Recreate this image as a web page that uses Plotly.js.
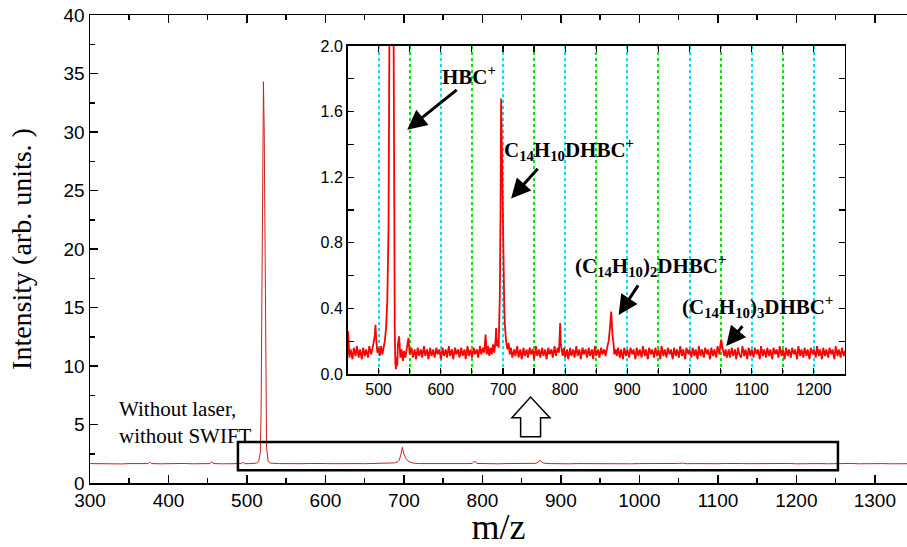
<!DOCTYPE html>
<html>
<head>
<meta charset="utf-8">
<script src="https://cdn.plot.ly/plotly-3.0.1.min.js"></script>
<style>html,body{margin:0;padding:0;background:#fff;}#chart{width:907px;height:547px;}</style>
</head>
<body>
<div id="chart"></div>
<script>
// ---- main spectrum (m/z, intensity) ----
const mainSpectrum = [
 [300,1.66],[310,1.64],[320,1.67],[330,1.65],[340,1.63],[350,1.66],[360,1.65],[370,1.67],[374,1.66],[376,1.80],[378,1.66],
 [390,1.64],[400,1.66],[410,1.65],[420,1.67],[430,1.64],[440,1.66],[450,1.65],[453,1.66],[455,1.82],[457,1.66],
 [470,1.64],[480,1.66],[490,1.65],[493,1.66],[495,1.78],[497,1.65],[505,1.66],[512,1.70],[515,1.85],[517,2.6],
 [518,6.0],[519,15.0],[520,28.0],[521,34.3],[522,30.0],[523,18.0],[524,7.5],[525,3.0],[527,1.85],[530,1.70],
 [540,1.66],[550,1.64],[560,1.66],[570,1.65],[580,1.67],[590,1.64],[600,1.66],[610,1.65],[620,1.67],[630,1.64],
 [640,1.66],[650,1.65],[660,1.66],[670,1.67],[680,1.68],[688,1.72],[692,1.80],[694,1.95],[696,2.4],[697,2.8],
 [698,3.05],[699,2.75],[700,2.45],[702,2.15],[705,1.90],[708,1.78],[712,1.70],[720,1.66],[730,1.65],[740,1.67],
 [750,1.64],[760,1.66],[770,1.65],[780,1.66],[787,1.67],[790,1.88],[793,1.67],[800,1.65],[810,1.66],[820,1.64],
 [830,1.66],[840,1.65],[850,1.67],[860,1.65],[868,1.68],[871,1.78],[873,1.95],[875,1.85],[878,1.70],[885,1.66],
 [890,1.65],[900,1.66],[910,1.64],[920,1.66],[930,1.65],[940,1.67],[950,1.64],[960,1.66],[970,1.65],[980,1.66],
 [990,1.64],[1000,1.66],[1010,1.65],[1020,1.67],[1030,1.64],[1040,1.66],[1050,1.67],[1055,1.70],[1060,1.65],
 [1070,1.66],[1080,1.64],[1090,1.66],[1100,1.65],[1110,1.67],[1120,1.64],[1130,1.66],[1140,1.65],[1150,1.66],
 [1160,1.64],[1170,1.66],[1180,1.65],[1190,1.67],[1200,1.64],[1210,1.66],[1220,1.65],[1230,1.66],[1240,1.64],
 [1250,1.66],[1260,1.65],[1270,1.67],[1280,1.64],[1290,1.66],[1300,1.65],[1310,1.66],[1320,1.64],[1330,1.66],[1341,1.65]
];

// ---- inset spectrum (zoomed region 450-1250) ----
const insetSpectrum = [
 [450,0.12],[451,0.26],[453,0.10],[455,0.15],[458,0.09],[460,0.16],[463,0.11],[465,0.17],[468,0.10],[470,0.15],
 [473,0.09],[475,0.16],[478,0.11],[480,0.15],[483,0.10],[485,0.17],[488,0.12],[490,0.15],[492,0.19],[494,0.24],
 [495,0.30],[496,0.22],[498,0.13],[500,0.16],[502,0.11],[504,0.17],[506,0.12],[508,0.16],[510,0.20],[512,0.28],
 [514,0.45],[516,0.9],[517,1.5],[518,2.6],[520,9.0],[521.5,12.0],[523,8.0],[524,2.2],[525,0.8],[526,0.25],
 [527,0.06],[528,0.03],[529,0.10],[530,0.05],[531,0.18],[533,0.23],[535,0.10],[537,0.15],[539,0.08],[541,0.14],
 [543,0.10],[546,0.16],[548,0.22],[550,0.12],[553,0.16],[555,0.10],[558,0.15],[560,0.09],[563,0.16],[565,0.11],
 [568,0.15],[570,0.10],[573,0.17],[575,0.11],[578,0.15],[580,0.09],[583,0.16],[585,0.11],[588,0.15],[590,0.10],
 [593,0.16],[595,0.12],[598,0.15],[600,0.09],[603,0.16],[605,0.11],[608,0.15],[610,0.10],[613,0.17],[615,0.11],
 [618,0.15],[620,0.09],[623,0.16],[625,0.12],[628,0.15],[630,0.10],[633,0.16],[635,0.11],[638,0.15],[640,0.09],
 [643,0.17],[645,0.11],[648,0.15],[650,0.10],[653,0.16],[655,0.12],[658,0.15],[660,0.10],[663,0.17],[665,0.12],
 [668,0.16],[670,0.13],[672,0.24],[674,0.12],[676,0.17],[678,0.11],[680,0.16],[682,0.12],[684,0.18],[686,0.13],
 [688,0.20],[689,0.28],[690,0.17],[692,0.21],[693,0.16],[694,0.32],[695,0.50],[696,0.95],[697,1.68],[698,1.45],
 [699,1.12],[700,0.85],[701,0.58],[702,0.42],[703,0.30],[704,0.24],[705,0.20],[707,0.15],[709,0.19],[711,0.12],
 [713,0.16],[715,0.10],[718,0.15],[720,0.11],[723,0.17],[725,0.10],[728,0.15],[730,0.09],[733,0.16],[735,0.11],
 [738,0.15],[740,0.10],[743,0.16],[745,0.12],[748,0.15],[750,0.09],[753,0.17],[755,0.11],[758,0.15],[760,0.10],
 [763,0.16],[765,0.11],[768,0.15],[770,0.09],[773,0.16],[775,0.12],[778,0.15],[780,0.10],[783,0.17],[785,0.11],
 [788,0.16],[790,0.13],[791,0.20],[792,0.31],[793,0.18],[796,0.11],[798,0.16],[800,0.10],[803,0.15],[805,0.09],
 [808,0.16],[810,0.11],[813,0.15],[815,0.10],[818,0.17],[820,0.11],[823,0.15],[825,0.09],[828,0.16],[830,0.12],
 [833,0.15],[835,0.10],[838,0.16],[840,0.11],[843,0.15],[845,0.09],[848,0.17],[850,0.11],[853,0.15],[855,0.10],
 [858,0.16],[860,0.12],[863,0.15],[865,0.11],[868,0.17],[870,0.20],[872,0.28],[873,0.36],[874,0.38],[875,0.32],
 [876,0.24],[878,0.18],[879,0.12],[881,0.15],[883,0.11],[885,0.16],[888,0.10],[890,0.15],[893,0.09],[895,0.16],
 [898,0.11],[900,0.15],[903,0.10],[905,0.16],[908,0.12],[910,0.15],[913,0.09],[915,0.16],[918,0.11],[920,0.15],
 [923,0.10],[925,0.17],[928,0.11],[930,0.15],[933,0.09],[935,0.16],[938,0.12],[940,0.15],[943,0.10],[945,0.16],
 [948,0.11],[950,0.15],[953,0.09],[955,0.17],[958,0.11],[960,0.15],[963,0.10],[965,0.16],[968,0.12],[970,0.15],
 [973,0.09],[975,0.16],[978,0.11],[980,0.15],[983,0.10],[985,0.17],[988,0.11],[990,0.15],[993,0.09],[995,0.16],
 [998,0.12],[1000,0.15],[1003,0.10],[1005,0.16],[1008,0.11],[1010,0.15],[1013,0.09],[1015,0.17],[1018,0.11],
 [1020,0.15],[1023,0.10],[1025,0.16],[1028,0.12],[1030,0.15],[1033,0.09],[1035,0.16],[1038,0.11],[1040,0.15],
 [1043,0.10],[1045,0.17],[1048,0.12],[1050,0.19],[1051,0.21],[1053,0.16],[1056,0.11],[1058,0.15],[1060,0.10],
 [1063,0.15],[1065,0.10],[1068,0.16],[1070,0.11],[1073,0.15],[1075,0.09],[1078,0.16],[1080,0.12],
 [1083,0.10],[1085,0.17],[1088,0.11],[1090,0.15],[1093,0.09],[1095,0.16],[1098,0.11],[1100,0.15],[1103,0.10],
 [1105,0.16],[1108,0.12],[1110,0.15],[1113,0.09],[1115,0.17],[1118,0.11],[1120,0.15],[1123,0.10],[1125,0.16],
 [1128,0.11],[1130,0.15],[1133,0.09],[1135,0.16],[1138,0.12],[1140,0.15],[1143,0.10],[1145,0.17],[1148,0.11],
 [1150,0.15],[1153,0.09],[1155,0.16],[1158,0.11],[1160,0.15],[1163,0.10],[1165,0.16],[1168,0.12],[1170,0.15],
 [1173,0.09],[1175,0.17],[1178,0.11],[1180,0.15],[1183,0.10],[1185,0.16],[1188,0.11],[1190,0.15],[1193,0.09],
 [1195,0.16],[1198,0.12],[1200,0.15],[1203,0.10],[1205,0.17],[1208,0.11],[1210,0.15],[1213,0.09],[1215,0.16],
 [1218,0.11],[1220,0.15],[1223,0.10],[1225,0.16],[1228,0.12],[1230,0.15],[1233,0.09],[1235,0.17],[1238,0.11],
 [1240,0.15],[1243,0.10],[1245,0.16],[1248,0.11],[1250,0.14]
];

// ---- peak labels in the inset: [text, textX, textY, arrowTailX, arrowTailY, arrowHeadX, arrowHeadY] ----
const peakLabels = [
 ['HBC<sup>+</sup>', 646, 1.82, 628, 1.74, 546, 1.49],
 ['C<sub>14</sub>H<sub>10</sub>DHBC<sup>+</sup>', 806, 1.37, 758, 1.26, 713, 1.07],
 ['(C<sub>14</sub>H<sub>10</sub>)<sub>2</sub>DHBC<sup>+</sup>', 938, 0.66, 919, 0.55, 886, 0.36],
 ['(C<sub>14</sub>H<sub>10</sub>)<sub>3</sub>DHBC<sup>+</sup>', 1110, 0.41, 1087, 0.30, 1059, 0.17]
];
const conditionLabel = 'Without laser,<br>without SWIFT';
const zoomBox = {x0: 488.5, x1: 1253, y0: 1.1, y1: 3.5};

const traces = [
 {x: mainSpectrum.map(p => p[0]), y: mainSpectrum.map(p => p[1]), type: 'scatter', mode: 'lines',
  line: {color: '#cc1f1f', width: 1}, xaxis: 'x', yaxis: 'y', hoverinfo: 'skip'},
 {x: insetSpectrum.map(p => p[0]), y: insetSpectrum.map(p => p[1]), type: 'scatter', mode: 'lines',
  line: {color: '#ff0000', width: 1.8}, xaxis: 'x2', yaxis: 'y2', hoverinfo: 'skip'}
];

const arial = 'Arial, "Liberation Sans", sans-serif';
const times = '"Times New Roman", "Liberation Serif", serif';

const annotations = [];
peakLabels.forEach(l => {
  annotations.push({xref: 'x2', yref: 'y2', x: l[1], y: l[2], text: l[0], showarrow: false,
    font: {family: times, size: 21, color: '#000', weight: 'bold'}, xanchor: 'center', yanchor: 'middle'});
  annotations.push({xref: 'x2', yref: 'y2', axref: 'x2', ayref: 'y2', x: l[5], y: l[6], ax: l[3], ay: l[4],
    text: '', showarrow: true, arrowhead: 2, arrowsize: 1.3, arrowwidth: 3, arrowcolor: '#000'});
});
annotations.push({xref: 'x', yref: 'y', x: 335, y: 5.2, text: conditionLabel, showarrow: false,
  xanchor: 'left', yanchor: 'middle', align: 'left', font: {family: times, size: 21, color: '#000'}});

const shapes = [
 {type: 'rect', xref: 'x', yref: 'y', x0: zoomBox.x0, x1: zoomBox.x1, y0: zoomBox.y0, y1: zoomBox.y1,
  line: {color: '#000', width: 2.5}, fillcolor: 'rgba(0,0,0,0)'},
 {type: 'path', xref: 'x', yref: 'y',
  path: 'M 848.7,3.96 L 848.7,5.58 L 837.6,5.58 L 861.4,7.35 L 886,5.58 L 874.1,5.58 L 874.1,3.96 Z',
  line: {color: '#000', width: 1.5}, fillcolor: '#fff'}
];

const layout = {
  width: 907, height: 547,
  margin: {l: 90, r: 0, t: 15, b: 64},
  paper_bgcolor: '#fff', plot_bgcolor: 'rgba(0,0,0,0)',
  showlegend: false,
  xaxis: {range: [300, 1341], domain: [0, 1], anchor: 'y', showline: true, linecolor: '#000', linewidth: 1.5,
    mirror: 'ticks', ticks: 'inside', ticklen: 8, tickwidth: 1.5, tickcolor: '#000', dtick: 100, tick0: 0,
    minor: {dtick: 50, ticks: 'inside', ticklen: 5, tickwidth: 1.5, tickcolor: '#000'},
    showgrid: false, zeroline: false, tickfont: {family: arial, size: 19, color: '#000'},
    title: {text: 'm/z', font: {family: times, size: 36, color: '#000'}, standoff: 0}},
  yaxis: {range: [0, 40], domain: [0, 1], anchor: 'x', showline: true, linecolor: '#000', linewidth: 1.5,
    ticks: 'inside', ticklen: 8, tickwidth: 1.5, tickcolor: '#000', dtick: 5, tick0: 0,
    minor: {dtick: 2.5, ticks: 'inside', ticklen: 5, tickwidth: 1.5, tickcolor: '#000'},
    showgrid: false, zeroline: false, tickfont: {family: arial, size: 19, color: '#000'},
    title: {text: 'Intensity (arb. units. )', font: {family: times, size: 28, color: '#000'}, standoff: 24}},
  xaxis2: {range: [450, 1250], domain: [0.3152, 0.9241], anchor: 'y2', showline: true, linecolor: '#000', linewidth: 1.5,
    mirror: 'ticks', ticks: 'inside', ticklen: 6, tickwidth: 1.2, tickcolor: '#000', dtick: 100, tick0: 0,
    showgrid: true, gridcolor: '#10d8f0', griddash: 'dot', gridwidth: 2,
    minor: {dtick: 50, ticks: 'inside', ticklen: 6, tickwidth: 1.2, tickcolor: '#000',
      showgrid: true, gridcolor: '#10dd10', griddash: 'dot', gridwidth: 2},
    zeroline: false, tickfont: {family: arial, size: 16, color: '#000'}},
  yaxis2: {range: [0, 2], domain: [0.2329, 0.9338], anchor: 'x2', showline: true, linecolor: '#000', linewidth: 1.5,
    mirror: 'ticks', ticks: 'inside', ticklen: 6, tickwidth: 1.2, tickcolor: '#000', dtick: 0.4, tick0: 0,
    tickformat: '.1f',
    minor: {dtick: 0.2, ticks: 'inside', ticklen: 6, tickwidth: 1.2, tickcolor: '#000'},
    showgrid: false, zeroline: false, tickfont: {family: arial, size: 16, color: '#000'}},
  annotations: annotations,
  shapes: shapes
};

Plotly.newPlot('chart', traces, layout, {staticPlot: true, displayModeBar: false});
</script>
</body>
</html>
